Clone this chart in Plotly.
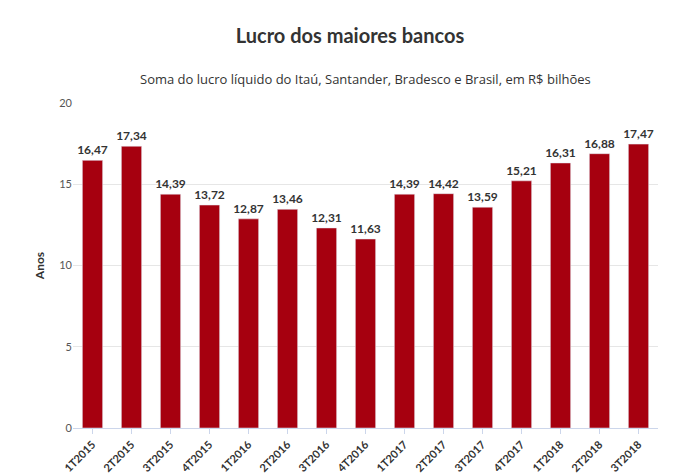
import plotly.graph_objects as go

categories = ["1T2015","2T2015","3T2015","4T2015","1T2016","2T2016","3T2016","4T2016",
              "1T2017","2T2017","3T2017","4T2017","1T2018","2T2018","3T2018"]
values = [16.47,17.34,14.39,13.72,12.87,13.46,12.31,11.63,14.39,14.42,13.59,15.21,16.31,16.88,17.47]
labels = [f"{v:.2f}".replace(".", ",") for v in values]

fig = go.Figure(go.Bar(
    x=categories, y=values, text=labels, textposition="outside",
    marker_color="#a6000f", cliponaxis=False, constraintext="none",
    textfont=dict(family="Lato", size=12, color="#333333", weight="bold"),
))
fig.update_layout(
    width=684, height=474,
    margin=dict(l=65, r=34, t=95, b=54, autoexpand=False),
    paper_bgcolor="white", plot_bgcolor="white",
    font=dict(family="Lato", color="#333333"),
    bargap=0.48, showlegend=False,
    title=dict(text="<b>Lucro dos maiores bancos</b>", x=0.5, xanchor="center", y=0.94, yanchor="middle",
               font=dict(size=20, color="#333333")),
    annotations=[dict(text="Soma do lucro líquido do Itaú, Santander, Bradesco e Brasil, em R$ bilhões",
                      xref="paper", yref="paper", x=0.5, y=1.0, yshift=35, showarrow=False,
                      font=dict(size=13, color="#333333", family="Open Sans"))],
    yaxis=dict(range=[0, 20], dtick=5, gridcolor="#e6e6e6", zeroline=False, automargin=False,
               title=dict(text="<b>Anos</b>", font=dict(size=12), standoff=12),
               tickfont=dict(size=11, color="#555555")),
    xaxis=dict(tickangle=-45, tickfont=dict(size=11, weight="bold"), showline=True, automargin=False,
               linecolor="#ccd6eb", ticks="outside", tickcolor="#ccd6eb", ticklen=5),
)
fig.write_html("out.html")
